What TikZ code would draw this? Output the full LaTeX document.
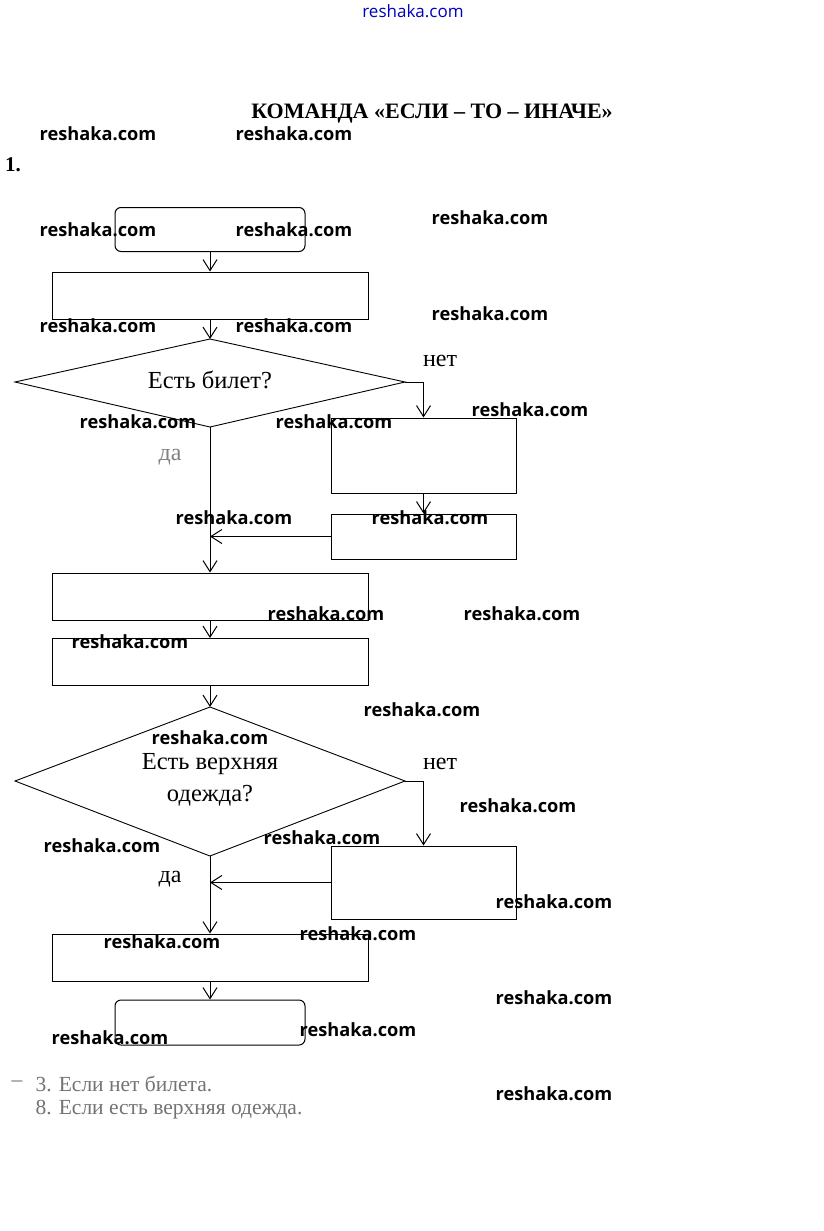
\documentclass[tikz,border=0pt]{standalone}
\usepackage{fontspec}
\setmainfont{Liberation Serif}
\newfontfamily\wmfont{Open Sans}
\usetikzlibrary{arrows.meta}
\begin{document}
\begin{tikzpicture}[x=1pt,y=-1pt,
  box/.style={draw,line width=1pt,minimum width=316pt,minimum height=47pt,inner sep=0pt},
  sidebox/.style={draw,line width=1pt,minimum width=185pt,inner sep=0pt},
  term/.style={draw,line width=1pt,rounded corners=6pt,minimum width=190pt,minimum height=44pt,inner sep=0pt},
  condline/.style={line width=0.9pt,line join=miter},
  arr/.style={line width=1pt,-{Straight Barb[length=11pt,width=14pt,line width=1pt]}},
  lab/.style={font=\fontsize{24}{26}\selectfont},
  note/.style={font=\fontsize{21.5}{24}\selectfont,text=black!55},
  wm/.style={font=\wmfont\bfseries\fontsize{18.2}{22}\selectfont},
]
\useasboundingbox (0,0) rectangle (823,1231);
\fill[white] (0,0) rectangle (823,1231);

\node[text=blue!75!black,font=\wmfont\fontsize{17}{18}\selectfont] (top) at (413,11) {reshaka.com};
\node[font=\bfseries\fontsize{22}{24}\selectfont] (title) at (432,114) {КОМАНДА «ЕСЛИ – ТО – ИНАЧЕ»};
\node[font=\bfseries\fontsize{21}{22}\selectfont] (num) at (13,165) {1.};

% flowchart
\node[term] (r1) at (210,229.5) {};
\node[box] (r2) at (210,295.5) {};

\coordinate (d1t) at (210,339);
\coordinate (d1l) at (15,382);
\coordinate (d1r) at (405,382);
\coordinate (d1b) at (210,427);
\draw[condline] (d1t) -- (d1r) -- (d1b) -- (d1l) -- cycle;
\node[font=\fontsize{24.5}{26}\selectfont] (d1) at (210,380) {Есть билет?};

\node[sidebox,minimum height=75pt] (r3) at (423.5,455.5) {};
\node[sidebox,minimum height=45pt] (r4) at (423.5,536.5) {};
\node[box] (r5) at (210,596.5) {};
\node[box] (r6) at (210,662) {};

\coordinate (d2t) at (210,707);
\coordinate (d2l) at (15,781);
\coordinate (d2r) at (405,781);
\coordinate (d2b) at (210,856);
\draw[condline] (d2t) -- (d2r) -- (d2b) -- (d2l) -- cycle;
\node[align=center,font=\fontsize{24.5}{32}\selectfont] (d2) at (210,780) {Есть верхняя\\ одежда?};

\node[sidebox,minimum height=73pt] (r7) at (423.5,882.5) {};
\node[box] (r8) at (210,957.5) {};
\node[term,minimum height=45pt] (r9) at (210,1022.5) {};

\node[lab] (no1) at (440,361) {нет};
\node[lab,text=black!50] (yes1) at (170,457) {да};
\node[lab] (no2) at (440,764) {нет};
\node[lab] (yes2) at (170,879) {да};

\draw[arr] (r1.south) -- (r2.north);
\draw[arr] (r2.south) -- (d1t);
\draw[arr] (d1r) -| (r3.north);
\draw[arr] (r3.south) -- (r4.north);
\draw[arr] (r4.west) -- (r4.west -| d1b);
\draw[arr] (d1b) -- (r5.north);
\draw[arr] (r5.south) -- (r6.north);
\draw[arr] (r6.south) -- (d2t);
\draw[arr] (d2r) -| (r7.north);
\draw[arr] (r7.west) -- (r7.west -| d2b);
\draw[arr] (d2b) -- (r8.north);
\draw[arr] (r8.south) -- (r9.north);

% notes
\node[note] (dash) at (17,1084) {–};
\node[note,anchor=west] (n1) at (32,1084) {3. Если нет билета.};
\node[note,anchor=west] (n2) at (32,1110) {8. Если есть верхняя одежда.};

% watermarks
\foreach \x/\y [count=\i] in {98/134,294/134,98/230,294/230,490/218,98/326,294/326,490/314,
  138/422,334/422,530/410,234/518,430/518,326/614,522/614,130/642,422/710,210/738,
  518/806,102/846,322/838,554/902,162/942,358/934,554/998,110/1038,358/1030,554/1094}
  \node[wm] (w\i) at (\x,\y) {reshaka.com};
\end{tikzpicture}
\end{document}
